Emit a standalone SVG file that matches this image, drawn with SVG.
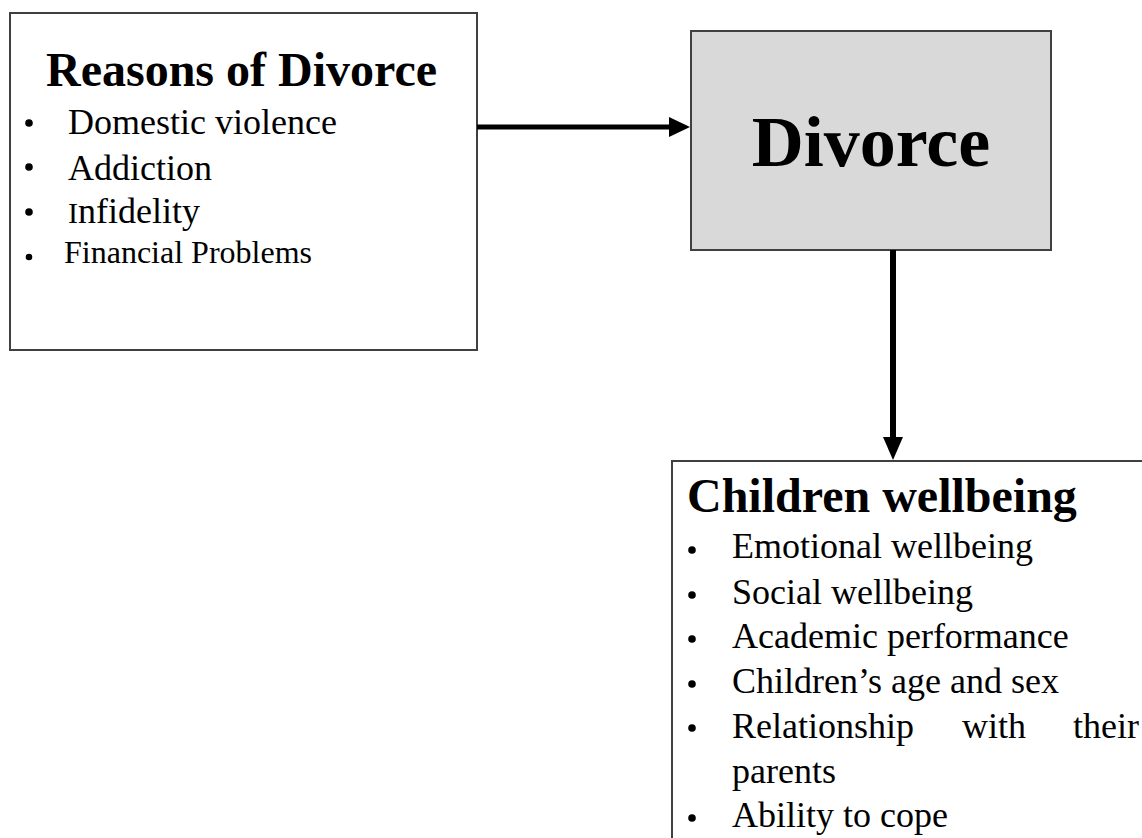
<svg xmlns="http://www.w3.org/2000/svg" width="1142" height="838" viewBox="0 0 1142 838">
<style>
.box{fill:#ffffff;stroke:#404040;stroke-width:2}
.gray{fill:#d9d9d9;stroke:#404040;stroke-width:2}
.t{font-family:"Liberation Serif","Times New Roman",serif;fill:#000}
.h{font-weight:bold}
.b{fill:#000}
.conn{stroke:#000;fill:none}
</style>
<rect width="1142" height="838" fill="#ffffff"/>
<g id="reasons">
<rect class="box" x="10" y="13" width="467" height="337"/>
<text class="t h" x="46" y="86" font-size="48">Reasons of Divorce</text>
<circle class="b" cx="29" cy="123" r="3.8"/>
<text class="t" x="68" y="134" font-size="36">Domestic violence</text>
<circle class="b" cx="29" cy="167" r="3.8"/>
<text class="t" x="68" y="180" font-size="36">Addiction</text>
<circle class="b" cx="29" cy="212" r="3.8"/>
<text class="t" x="68" y="223" font-size="36"><tspan font-size="30">I</tspan>nfidelity</text>
<circle class="b" cx="29" cy="257" r="3.3"/>
<text class="t" x="64" y="263" font-size="32">Financial Problems</text>
</g>
<g id="divorce">
<rect class="gray" x="691" y="31" width="360" height="219"/>
<text class="t h" x="871" y="166" font-size="72" text-anchor="middle">Divorce</text>
</g>
<g id="children">
<rect class="box" x="672" y="461" width="490" height="400"/>
<text class="t h" x="687" y="512" font-size="48">Children wellbeing</text>
<circle class="b" cx="692" cy="550" r="3.8"/>
<text class="t" x="732" y="558" font-size="36">Emotional wellbeing</text>
<circle class="b" cx="692" cy="595" r="3.8"/>
<text class="t" x="732" y="604" font-size="36">Social wellbeing</text>
<circle class="b" cx="692" cy="639" r="3.8"/>
<text class="t" x="732" y="648" font-size="36">Academic performance</text>
<circle class="b" cx="692" cy="684" r="3.8"/>
<text class="t" x="732" y="693" font-size="36">Children’s age and sex</text>
<circle class="b" cx="692" cy="728" r="3.8"/>
<text class="t" x="732" y="738" font-size="36">Relationship</text>
<text class="t" x="962" y="738" font-size="36">with</text>
<text class="t" x="1073" y="738" font-size="36">their</text>
<text class="t" x="732" y="783" font-size="36">parents</text>
<circle class="b" cx="692" cy="818" r="3.8"/>
<text class="t" x="732" y="827" font-size="36">Ability to cope</text>
</g>
<g id="connectors">
<line class="conn" x1="477" y1="127" x2="672" y2="127" stroke-width="5"/>
<polygon points="669,117 690,127 669,137" fill="#000"/>
<line class="conn" x1="893" y1="250" x2="893" y2="440" stroke-width="6"/>
<polygon points="883,437 903,437 893,460" fill="#000"/>
</g>
</svg>
